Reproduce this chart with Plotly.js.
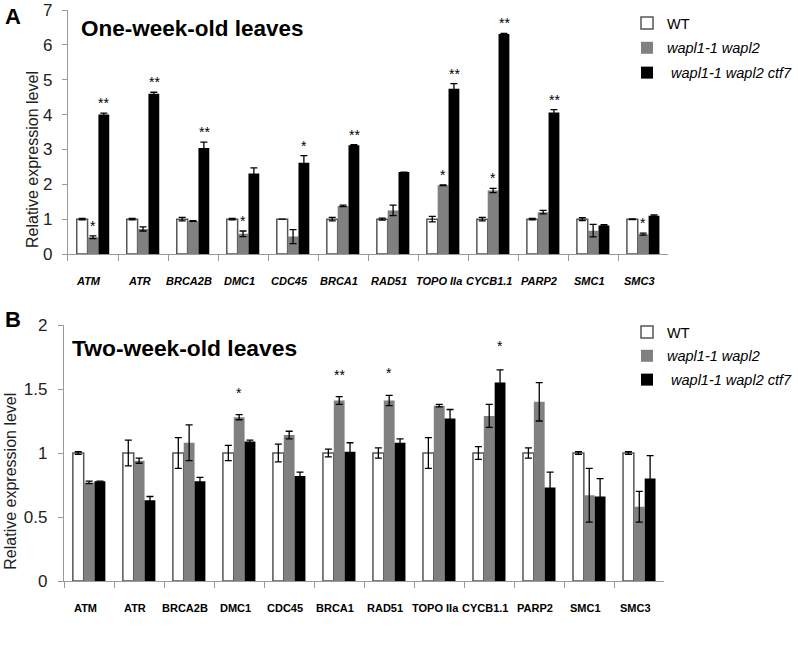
<!DOCTYPE html>
<html>
<head>
<meta charset="utf-8">
<script src="https://cdn.plot.ly/plotly-3.0.1.min.js"></script>
<style>html,body{margin:0;padding:0;background:#fff;}#chart{width:798px;height:651px;}</style>
</head>
<body>
<div id="chart"></div>
<script>
// ---------- data ----------
const genes = ["ATM","ATR","BRCA2B","DMC1","CDC45","BRCA1","RAD51","TOPO IIa","CYCB1.1","PARP2","SMC1","SMC3"];
const seriesNames = ["WT","wapl1-1 wapl2","wapl1-1 wapl2 ctf7"];

// Panel A: one-week-old leaves
const wtA      = [1.00,1.00,1.00,1.00,1.00,1.00,1.00,1.00,1.00,1.00,1.00,1.00];
const wtAErr   = [0.02,0.02,0.05,0.02,0.00,0.05,0.03,0.08,0.05,0.02,0.04,0.01];
const waplA    = [0.48,0.72,0.95,0.58,0.50,1.38,1.25,1.97,1.82,1.20,0.67,0.57];
const waplAErr = [0.04,0.06,0.01,0.08,0.20,0.02,0.15,0.01,0.06,0.05,0.18,0.03];
const ctf7A    = [4.00,4.60,3.04,2.31,2.62,3.12,2.35,4.74,6.31,4.06,0.82,1.10];
const ctf7AErr = [0.04,0.04,0.17,0.16,0.20,0.02,0.00,0.15,0.02,0.08,0.02,0.02];
const sigWaplA = ["*","","","*","","","","*","*","","","*"];
const sigCtf7A = ["**","**","**","","*","**","","**","**","**","",""];

// Panel B: two-week-old leaves
const wtB      = [1.00,1.00,1.00,1.00,1.00,1.00,1.00,1.00,1.00,1.00,1.00,1.00];
const wtBErr   = [0.01,0.10,0.12,0.06,0.07,0.03,0.04,0.12,0.05,0.04,0.01,0.01];
const waplB    = [0.77,0.94,1.08,1.28,1.14,1.41,1.41,1.37,1.29,1.40,0.67,0.58];
const waplBErr = [0.01,0.02,0.14,0.02,0.03,0.03,0.04,0.01,0.09,0.15,0.21,0.12];
const ctf7B    = [0.78,0.63,0.78,1.09,0.82,1.01,1.08,1.27,1.55,0.73,0.66,0.80];
const ctf7BErr = [0.00,0.03,0.03,0.01,0.03,0.07,0.03,0.07,0.10,0.12,0.14,0.18];
const sigWaplB = ["","","","*","","**","*","","","","",""];
const sigCtf7B = ["","","","","","","","","*","","",""];

// ---------- styles ----------
const FONT = "Arial, 'Liberation Sans', sans-serif";
const fills = ["#ffffff","#808080","#000000"];
const lines = ["#555555","#808080","#000000"];

function bar(name, y, err, i, xa, ya, leg, grp) {
  return {
    type: "bar", name: name, x: genes, y: y,
    xaxis: xa, yaxis: ya, legend: leg, legendgroup: grp, showlegend: true,
    marker: {color: fills[i], line: {color: lines[i], width: i === 0 ? 1.5 : 0}},
    error_y: {type: "data", array: err, visible: true, color: "#000", thickness: 1.3, width: 3.5},
    hoverinfo: "skip"
  };
}

const traces = [
  bar(seriesNames[0], wtA,   wtAErr,   0, "x",  "y",  "legend",  "a0"),
  bar(seriesNames[1], waplA, waplAErr, 1, "x",  "y",  "legend",  "a1"),
  bar(seriesNames[2], ctf7A, ctf7AErr, 2, "x",  "y",  "legend",  "a2"),
  bar(seriesNames[0], wtB,   wtBErr,   0, "x2", "y2", "legend2", "b0"),
  bar(seriesNames[1], waplB, waplBErr, 1, "x2", "y2", "legend2", "b1"),
  bar(seriesNames[2], ctf7B, ctf7BErr, 2, "x2", "y2", "legend2", "b2")
];

const annotations = [];

// significance marks (positioned from the data)
function addSig(sig, vals, errs, xa, ya, shift, yshift) {
  sig.forEach((s, k) => {
    if (!s) return;
    annotations.push({
      x: genes[k], y: vals[k] + errs[k], xref: xa, yref: ya,
      text: s, showarrow: false, xshift: shift, yshift: yshift,
      yanchor: "middle", font: {family: FONT, size: 14, color: "#000"}
    });
  });
}
addSig(sigWaplA, waplA, waplAErr, "x",  "y",  0,  10);
addSig(sigCtf7A, ctf7A, ctf7AErr, "x",  "y",  11, 10);
addSig(sigWaplB, waplB, waplBErr, "x2", "y2", 0,  22);
addSig(sigCtf7B, ctf7B, ctf7BErr, "x2", "y2", 11, 24);

// category labels below the axis
function addCatLabels(xa, ya, italic) {
  genes.forEach(g => {
    annotations.push({
      x: g, y: 0, xref: xa, yref: ya, showarrow: false,
      text: italic ? "<b><i>" + g + "</i></b>" : "<b>" + g + "</b>",
      xanchor: "center", yanchor: "middle", xshift: -4, yshift: -27,
      font: {family: FONT, size: 11, color: "#000"}
    });
  });
}
addCatLabels("x", "y", true);
addCatLabels("x2", "y2", false);

// titles / labels
const txt = (t, x, y, size, extra) => Object.assign({
  text: t, x: x, y: y, xref: "paper", yref: "paper", showarrow: false,
  font: {family: FONT, size: size, color: "#000"}
}, extra || {});
annotations.push(txt("<b>A</b>", 3/798, 1 - 17/651, 22, {xanchor: "left", yanchor: "middle"}));
annotations.push(txt("<b>B</b>", 3/798, 1 - 320/651, 22, {xanchor: "left", yanchor: "middle"}));
annotations.push(txt("<b>One-week-old leaves</b>", 81/798, 1 - 29/651, 22.5, {xanchor: "left", yanchor: "middle"}));
annotations.push(txt("<b>Two-week-old leaves</b>", 72/798, 1 - 348/651, 22.8, {xanchor: "left", yanchor: "middle"}));
annotations.push(txt("Relative expression level", 34/798, 1 - 160/651, 16, {textangle: -90, xanchor: "center", yanchor: "middle", font: {family: FONT, size: 16, color: "#222"}}));
annotations.push(txt("Relative expression level", 11/798, 1 - 481/651, 16, {textangle: -90, xanchor: "center", yanchor: "middle", font: {family: FONT, size: 16, color: "#222"}}));

const axisCommon = {
  showgrid: false, zeroline: false, showline: true, linecolor: "#9a9a9a", linewidth: 1.2,
  ticks: "outside", tickcolor: "#9a9a9a", ticklen: 5, fixedrange: true, automargin: false
};

const layout = {
  width: 798, height: 651,
  margin: {l: 0, r: 0, t: 0, b: 0},
  paper_bgcolor: "#fff", plot_bgcolor: "#fff",
  barmode: "group", bargap: 0.35, bargroupgap: 0,
  font: {family: FONT, color: "#000"},
  xaxis: Object.assign({}, axisCommon, {
    domain: [70/798, 688/798], anchor: "y", type: "category", tickson: "boundaries",
    showticklabels: false, ticklen: 6
  }),
  yaxis: Object.assign({}, axisCommon, {
    domain: [1 - 254/651, 1 - 10/651], anchor: "x", range: [0, 7.0001], dtick: 1,
    tickfont: {family: FONT, size: 17, color: "#222"}, ticklabelstandoff: 6,
    ticklabeloverflow: "allow"
  }),
  xaxis2: Object.assign({}, axisCommon, {
    domain: [66/798, 684/798], anchor: "y2", type: "category", tickson: "boundaries",
    showticklabels: false, ticklen: 6
  }),
  yaxis2: Object.assign({}, axisCommon, {
    domain: [1 - 581/651, 1 - 325/651], anchor: "x2", range: [0, 2.0001], dtick: 0.5,
    tickfont: {family: FONT, size: 17, color: "#222"}, ticklabelstandoff: 7,
    ticklabeloverflow: "allow"
  }),
  legend: {
    x: 646/798, y: 1 - 7/651, xanchor: "left", yanchor: "top",
    bgcolor: "rgba(0,0,0,0)", traceorder: "grouped", tracegroupgap: 3,
    font: {family: FONT, size: 14.5, color: "#000"}
  },
  legend2: {
    x: 646/798, y: 1 - 316/651, xanchor: "left", yanchor: "top",
    bgcolor: "rgba(0,0,0,0)", traceorder: "grouped", tracegroupgap: 2,
    font: {family: FONT, size: 14.5, color: "#000"}
  },
  annotations: annotations
};

// italic legend names for mutants
traces.forEach(t => {
  if (t.name !== "WT") t.name = "<i>" + t.name + "</i>";
});
traces[2].name = " " + traces[2].name;
traces[5].name = " " + traces[5].name;

Plotly.newPlot("chart", traces, layout, {staticPlot: true, displayModeBar: false});
</script>
</body>
</html>
